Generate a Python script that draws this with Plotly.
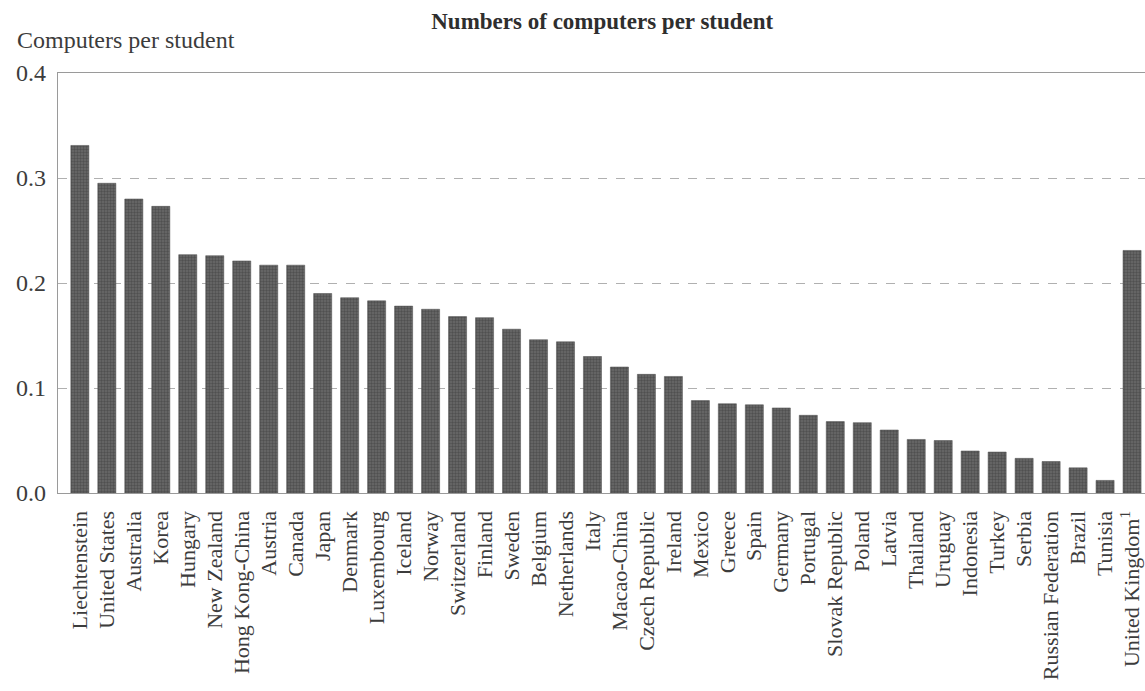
import plotly.graph_objects as go

countries = [
    "Liechtenstein", "United States", "Australia", "Korea", "Hungary", "New Zealand",
    "Hong Kong-China", "Austria", "Canada", "Japan", "Denmark", "Luxembourg", "Iceland",
    "Norway", "Switzerland", "Finland", "Sweden", "Belgium", "Netherlands", "Italy",
    "Macao-China", "Czech Republic", "Ireland", "Mexico", "Greece", "Spain", "Germany",
    "Portugal", "Slovak Republic", "Poland", "Latvia", "Thailand", "Uruguay", "Indonesia",
    "Turkey", "Serbia", "Russian Federation", "Brazil", "Tunisia", "United Kingdom<sup>1</sup>",
]
computers_per_student = [
    0.331, 0.295, 0.280, 0.273, 0.227, 0.226, 0.221, 0.217, 0.217, 0.190,
    0.186, 0.183, 0.178, 0.175, 0.168, 0.167, 0.156, 0.146, 0.144, 0.130,
    0.120, 0.113, 0.111, 0.088, 0.085, 0.084, 0.081, 0.074, 0.068, 0.067,
    0.060, 0.051, 0.050, 0.040, 0.039, 0.033, 0.030, 0.024, 0.012, 0.231,
]
y_ticks = [0.0, 0.1, 0.2, 0.3, 0.4]
y_tick_labels = ["0.0", "0.1", "0.2", "0.3", "0.4"]

FONT = "Liberation Serif"
TXT = "#3c3c3c"

fig = go.Figure(
    go.Bar(
        x=countries,
        y=computers_per_student,
        marker=dict(
            color="#5a5a5a",
            line=dict(color="#4a4a4a", width=0.5),
            pattern=dict(shape=".", fgcolor="#363636", bgcolor="#6a6a6a", size=3, solidity=0.5),
        ),
        width=0.67,
        hoverinfo="x+y",
    )
)

fig.update_layout(
    width=1145,
    height=691,
    margin=dict(l=58, r=0, t=73, b=198, autoexpand=False),
    paper_bgcolor="white",
    plot_bgcolor="white",
    showlegend=False,
    font=dict(family=FONT, color=TXT, size=19),
    title=dict(
        text="<b>Numbers of computers per student</b>",
        x=0.526, xanchor="center", y=0.969, yanchor="middle",
        font=dict(family=FONT, size=23, color="#2e2e2e"),
    ),
    annotations=[
        dict(
            text="Computers per student", xref="paper", yref="paper",
            x=-0.040, y=1.078, xanchor="left", yanchor="middle", showarrow=False,
            font=dict(family=FONT, size=24, color=TXT),
        )
    ],
)

fig.update_xaxes(
    type="category",
    range=[-0.81, 39.48],
    tickmode="array",
    tickvals=countries,
    ticktext=countries,
    tickangle=-90,
    tickfont=dict(family=FONT, size=22, color=TXT),
    showline=True, linecolor="#9a9a9a", linewidth=1.2, mirror=True,
    showgrid=False, ticks="", ticklabelstandoff=8,
)
fig.update_yaxes(
    range=[0, 0.4],
    tickvals=y_ticks,
    ticktext=y_tick_labels,
    tickfont=dict(family=FONT, size=24, color=TXT),
    showline=True, linecolor="#9a9a9a", linewidth=1.2,
    showgrid=True, gridcolor="#b0b0b0", griddash="dash", gridwidth=1,
    zeroline=False, ticks="", ticklabelstandoff=6,
)

fig.write_html(
    "out.html",
    config={"displayModeBar": False},
    post_script="document.body.style.margin='0';document.body.style.overflow='hidden';",
)
